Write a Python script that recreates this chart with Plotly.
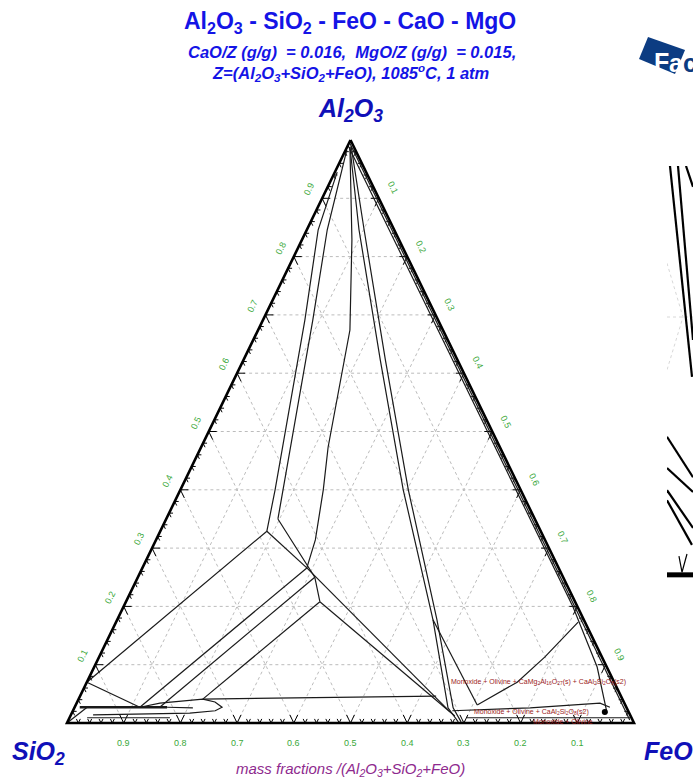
import plotly.graph_objects as go

W, H = 693, 782

# ---------------------------------------------------------------------------
# Data: compositions as (Al2O3, FeO) mass fractions; SiO2 = 1 - Al2O3 - FeO
# ---------------------------------------------------------------------------
tick_values = [0.1, 0.2, 0.3, 0.4, 0.5, 0.6, 0.7, 0.8, 0.9]
tick_labels = ["0.1", "0.2", "0.3", "0.4", "0.5", "0.6", "0.7", "0.8", "0.9"]
minor_step = 0.02

# phase boundary lines
line_left_outer = [(0.945, 0.004), (0.846, 0.020), (0.691, 0.074), (0.400, 0.167), (0.329, 0.188)]
line_left_inner = [(0.983, 0.002), (0.846, 0.036), (0.691, 0.088), (0.400, 0.181), (0.350, 0.197)]
line_central = [(0.988, 0.005), (0.829, 0.088), (0.674, 0.162), (0.559, 0.197), (0.473, 0.224),
                (0.400, 0.252), (0.314, 0.281), (0.266, 0.290)]
line_right_a = [(0.988, 0.005), (0.846, 0.092), (0.623, 0.241), (0.400, 0.393), (0.177, 0.557),
                (0.026, 0.659), (0.002, 0.689)]
line_right_b = [(0.990, 0.006), (0.846, 0.101), (0.623, 0.250), (0.400, 0.402), (0.177, 0.564),
                (0.026, 0.668), (0.002, 0.694)]
line_branch = [(0.177, 0.557), (0.031, 0.708)]
line_spinel = [(0.031, 0.708), (0.070, 0.759), (0.113, 0.786), (0.173, 0.815)]
line_edge_inner1 = [(0.991, 0.000), (0.199, 0.793), (0.096, 0.887), (0.017, 0.944)]
line_edge_inner2 = [(0.996, 0.000), (0.005, 0.990)]

# junction links
link_j1_j2 = [(0.329, 0.188), (0.266, 0.290)]
link_j1b_j2b = [(0.350, 0.197), (0.250, 0.312), (0.208, 0.342)]

# tie lines running down towards SiO2
tie_j1 = [(0.329, 0.188), (0.070, 0.000)]
tie_j2 = [(0.266, 0.290), (0.027, 0.115)]
tie_j2b = [(0.250, 0.312), (0.027, 0.150)]
tie_j4 = [(0.208, 0.342), (0.041, 0.219)]
tie_edge = [(0.070, 0.000), (0.027, 0.115)]

# tie lines running down towards FeO
tie_j2_fe = [(0.266, 0.290), (0.019, 0.666)]
tie_j4_fe = [(0.208, 0.342), (0.012, 0.678)]

# low-alumina boundaries
line_low = [(0.041, 0.219), (0.043, 0.390), (0.046, 0.628)]
lens = [(0.027, 0.115), (0.034, 0.147), (0.041, 0.219), (0.036, 0.243), (0.027, 0.260),
        (0.021, 0.251), (0.017, 0.208), (0.015, 0.103), (0.014, 0.039)]
line_thick = [(0.027, 0.009), (0.027, 0.163)]
line_thin = [(0.027, 0.163), (0.026, 0.209)]
line_base = [(0.009, 0.031), (0.009, 0.177)]
line_corner = [(0.000, 0.000), (0.027, 0.022)]
line_an_top = [(0.021, 0.669), (0.026, 0.804), (0.034, 0.923), (0.027, 0.944)]
line_an_base = [(0.009, 0.701), (0.009, 0.989)]

boundary_lines = [line_left_outer, line_left_inner, line_central, line_right_a, line_right_b,
                  line_branch, line_spinel, line_edge_inner1, line_edge_inner2,
                  link_j1_j2, link_j1b_j2b, tie_j1, tie_j2, tie_j2b, tie_j4, tie_edge,
                  tie_j2_fe, tie_j4_fe, line_low, lens, line_thin, line_base, line_corner,
                  line_an_top, line_an_base]

invariant_points = [(0.019, 0.939)]

region_labels = [
    "Monoxide + Olivine + CaMg<sub>2</sub>Al<sub>16</sub>O<sub>27</sub>(s) + CaAl<sub>2</sub>Si<sub>2</sub>O<sub>8</sub>(s2)",
    "Monoxide + Olivine + CaAl<sub>2</sub>Si<sub>2</sub>O<sub>8</sub>(s2)",
    "Monoxide + Olivine",
]
region_label_at = [(0.070, 0.796), (0.019, 0.809), (0.002, 0.874)]

# partial view of the neighbouring enlarged diagram (its own 0..1 axes)
inset_lines = [
    [(0.115, 1.0), (0.962, 0.514)],
    [(0.423, 1.0), (1.0, 0.599)],
    [(0.731, 1.0), (1.0, 0.952)],
    [(0.0, 0.376), (1.0, 0.283)],
    [(0.0, 0.304), (1.0, 0.249)],
    [(0.0, 0.253), (1.0, 0.166)],
    [(0.0, 0.230), (0.96, 0.127)],
]
inset_axis = [(0.0, 0.058), (1.0, 0.058)]
inset_tick = [(0.46, 0.101), (0.577, 0.064), (0.769, 0.106)]
inset_grid = [[(0.0, 0.652), (1.0, 0.652)], [(0.0, 0.776), (0.615, 0.652), (0.0, 0.53)]]


# ---------------------------------------------------------------------------
def to_xy(points):
    xs, ys = [], []
    for p in points:
        if p is None:
            xs.append(None)
            ys.append(None)
            continue
        a, f = p
        xs.append(f + a / 2.0)
        ys.append(a)
    return xs, ys


def join(segments):
    out = []
    for s in segments:
        out.extend(s)
        out.append(None)
    return out


def px(x, y):
    """pixel position -> paper fraction"""
    return x / W, 1 - y / H


fig = go.Figure()

# dashed composition grid
grid = []
for t in tick_values:
    grid.append([(t, 0.0), (t, 1 - t)])          # constant Al2O3
    grid.append([(0.0, t), (1 - t, t)])          # constant FeO
    grid.append([(0.0, 1 - t), (1 - t, 0.0)])    # constant SiO2
gx, gy = to_xy(join(grid))
fig.add_trace(go.Scatter(x=gx, y=gy, mode="lines",
                         line=dict(color="#bcbcbc", width=1, dash="3px,3px"),
                         hoverinfo="skip"))

# ticks along the three edges
ticks = []
n = int(round(1 / minor_step))
for i in range(1, n):
    t = i * minor_step
    L = 0.014 if i % 5 == 0 else 0.007
    # bottom edge (SiO2-FeO), Al2O3 = 0
    f = 1 - t
    ticks.append([(L, f), (0.0, f), (L, f - L)])
    # left edge (SiO2-Al2O3), FeO = 0
    ticks.append([(t, L), (t, 0.0), (t - L, L)])
    # right edge (Al2O3-FeO), SiO2 = 0
    ticks.append([(t, 1 - t - L), (t, 1 - t), (t - L, 1 - t)])
tx, ty = to_xy(join(ticks))
fig.add_trace(go.Scatter(x=tx, y=ty, mode="lines", line=dict(color="black", width=1),
                         hoverinfo="skip"))

# phase boundaries
bx, by = to_xy(join(boundary_lines))
fig.add_trace(go.Scatter(x=bx, y=by, mode="lines", line=dict(color="#1a1a1a", width=1.2),
                         hoverinfo="skip"))
kx, ky = to_xy(line_thick)
fig.add_trace(go.Scatter(x=kx, y=ky, mode="lines", line=dict(color="#1a1a1a", width=2.6),
                         hoverinfo="skip"))

# triangle frame
frame = [(1.0, 0.0), (0.0, 0.0), (0.0, 1.0), (1.0, 0.0)]
fx, fy = to_xy(frame)
fig.add_trace(go.Scatter(x=fx, y=fy, mode="lines", line=dict(color="black", width=2.6),
                         hoverinfo="skip"))

ix, iy = to_xy(invariant_points)
fig.add_trace(go.Scatter(x=ix, y=iy, mode="markers",
                         marker=dict(color="black", size=6), hoverinfo="skip"))

# inset traces
for seg in inset_grid:
    fig.add_trace(go.Scatter(x=[p[0] for p in seg], y=[p[1] for p in seg], mode="lines",
                             line=dict(color="#d8d8d8", width=1, dash="3px,3px"),
                             xaxis="x2", yaxis="y2", hoverinfo="skip"))
for seg in inset_lines:
    fig.add_trace(go.Scatter(x=[p[0] for p in seg], y=[p[1] for p in seg], mode="lines",
                             line=dict(color="black", width=2.2),
                             xaxis="x2", yaxis="y2", hoverinfo="skip"))
fig.add_trace(go.Scatter(x=[p[0] for p in inset_axis], y=[p[1] for p in inset_axis],
                         mode="lines", line=dict(color="black", width=5),
                         xaxis="x2", yaxis="y2", hoverinfo="skip"))
fig.add_trace(go.Scatter(x=[p[0] for p in inset_tick], y=[p[1] for p in inset_tick],
                         mode="lines", line=dict(color="black", width=1.2),
                         xaxis="x2", yaxis="y2", hoverinfo="skip"))

annotations = []
FONT = "Liberation Sans, Arial, sans-serif"
GREEN = "#3aa83a"

# tick labels
for t, lab in zip(tick_values, tick_labels):
    # left edge: Al2O3
    x, y = to_xy([(t, 0.0)])
    annotations.append(dict(x=x[0], y=y[0], text=lab, showarrow=False, textangle=-64,
                            xshift=-13, yshift=9, font=dict(size=9, color=GREEN, family=FONT)))
    # right edge: FeO
    x, y = to_xy([(1 - t, t)])
    annotations.append(dict(x=x[0], y=y[0], text=lab, showarrow=False, textangle=64,
                            xshift=14, yshift=10, font=dict(size=9, color=GREEN, family=FONT)))
    # bottom edge: SiO2
    x, y = to_xy([(0.0, 1 - t)])
    annotations.append(dict(x=x[0], y=y[0], text=lab, showarrow=False,
                            yshift=-20, font=dict(size=9, color=GREEN, family=FONT)))

# region labels
for lab, pos in zip(region_labels, region_label_at):
    x, y = to_xy([pos])
    annotations.append(dict(x=x[0], y=y[0], text=lab, showarrow=False,
                            xanchor="center", yanchor="middle",
                            font=dict(size=7, color="#9b1c1c", family=FONT)))


def paper_text(text, x, y, size, color, family=FONT, **kw):
    X, Y = px(x, y)
    d = dict(x=X, y=Y, xref="paper", yref="paper", text=text, showarrow=False,
             xanchor="center", yanchor="middle",
             font=dict(size=size, color=color, family=family))
    d.update(kw)
    annotations.append(d)


BLUE = "#1414e6"
paper_text("<b>Al<sub>2</sub>O<sub>3</sub> - SiO<sub>2</sub> - FeO - CaO - MgO</b>", 350, 22, 23, BLUE)
paper_text("<b><i>CaO/Z (g/g)  = 0.016,  MgO/Z (g/g)  = 0.015,</i></b>", 352, 52, 16.5, BLUE)
paper_text("<b><i>Z=(Al<sub>2</sub>O<sub>3</sub>+SiO<sub>2</sub>+FeO), 1085<sup>o</sup>C, 1 atm</i></b>",
           350, 73, 16.5, BLUE)
paper_text("<b><i>Al<sub>2</sub>O<sub>3</sub></i></b>", 350, 110, 25, "#1010b8")
paper_text("<b><i>SiO<sub>2</sub></i></b>", 38, 753, 25, "#1010b8")
paper_text("<b><i>FeO</i></b>", 642, 751, 25, "#1010b8", xanchor="left")
paper_text("<i>mass fractions /(Al<sub>2</sub>O<sub>3</sub>+SiO<sub>2</sub>+FeO)</i>",
           351, 769, 15, "#8e2a8e")

# logo
NAVY = "#0c3c82"
logo = [(639, 59), (648, 37), (685, 50), (675, 74)]
path = "M " + " L ".join("%.4f,%.4f" % px(*p) for p in logo) + " Z"
shapes = [dict(type="path", path=path, xref="paper", yref="paper",
               fillcolor=NAVY, line=dict(width=0), layer="below")]
paper_text("<b>F</b>", 652, 62, 25, "white", xanchor="left")
paper_text("<b>a</b>", 667, 63, 25, "white", xanchor="left")
paper_text("<b>c</b>", 681, 63, 25, NAVY, xanchor="left")

fig.update_layout(
    width=W, height=H,
    margin=dict(l=0, r=0, t=0, b=0),
    paper_bgcolor="white", plot_bgcolor="rgba(0,0,0,0)",
    showlegend=False,
    xaxis=dict(range=[-67 / 567, 626 / 567], domain=[0, 1], visible=False, fixedrange=True),
    yaxis=dict(range=[-59 / 583, 723 / 583], domain=[0, 1], visible=False, fixedrange=True),
    xaxis2=dict(range=[0, 1], domain=[667 / W, 1], visible=False, anchor="y2", fixedrange=True),
    yaxis2=dict(range=[0, 1], domain=[1 - 600 / H, 1 - 166 / H], visible=False, anchor="x2",
                fixedrange=True),
    annotations=annotations,
    shapes=shapes,
)

fig.write_html("out.html")
